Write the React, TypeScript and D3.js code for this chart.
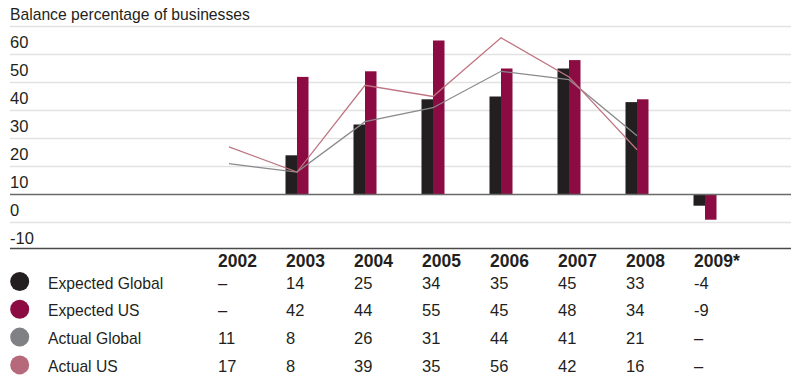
import React from "react";
import * as d3 from "d3";

const years = ["2002", "2003", "2004", "2005", "2006", "2007", "2008", "2009*"];
const expectedGlobal: (number | null)[] = [null, 14, 25, 34, 35, 45, 33, -4];
const expectedUS: (number | null)[] = [null, 42, 44, 55, 45, 48, 34, -9];
const actualGlobal: (number | null)[] = [11, 8, 26, 31, 44, 41, 21, null];
const actualUS: (number | null)[] = [17, 8, 39, 35, 56, 42, 16, null];
const yTicks = [60, 50, 40, 30, 20, 10, 0, -10];

const series = [
  { name: "Expected Global", values: expectedGlobal, color: "#231f20" },
  { name: "Expected US", values: expectedUS, color: "#8b0b42" },
  { name: "Actual Global", values: actualGlobal, color: "#808184" },
  { name: "Actual US", values: actualUS, color: "#b5697a" },
];

const W = 807;
const H = 378;
const FONT = "'Liberation Sans', Arial, sans-serif";

export default function App() {
  const x = d3.scalePoint<string>().domain(years).range([229, 705]);
  const y = d3.scaleLinear().domain([-10, 60]).range([222.5, 26.5]);
  const barW = 11.5;
  const left = 10;
  const right = 791;
  const bottomLine = 248.5;

  const lineGen = d3
    .line<[string, number | null]>()
    .defined((d) => d[1] !== null)
    .x((d) => x(d[0]) as number)
    .y((d) => y(d[1] as number));

  const rowY = (i: number) => 288.5 + i * 27.8;

  return (
    <svg
      width={W}
      height={H}
      style={{ position: "absolute", left: 0, top: 0, background: "#fff" }}
      fontFamily={FONT}
    >
      <text x={10} y={20} fontSize={15.7} fill="#231f20">
        Balance percentage of businesses
      </text>
      {yTicks.map((t) => (
        <g key={t}>
          {t !== 0 && (
            <line x1={left} x2={right} y1={y(t)} y2={y(t)} stroke="#e2e2e2" strokeWidth={1.5} />
          )}
          <text x={10} y={y(t) + 21.5} fontSize={16.5} fill="#231f20">
            {t}
          </text>
        </g>
      ))}
      {years.map((yr, i) => {
        const c = x(yr) as number;
        const g = expectedGlobal[i];
        const u = expectedUS[i];
        return (
          <g key={yr}>
            {g !== null && (
              <rect
                x={c - barW}
                y={Math.min(y(g), y(0))}
                width={barW}
                height={Math.abs(y(g) - y(0))}
                fill="#231f20"
              />
            )}
            {u !== null && (
              <rect
                x={c}
                y={Math.min(y(u), y(0))}
                width={barW}
                height={Math.abs(y(u) - y(0))}
                fill="#8b0b42"
              />
            )}
          </g>
        );
      })}
      <line x1={left} x2={right} y1={y(0)} y2={y(0)} stroke="#6a6a6a" strokeWidth={1.6} />
      <path
        d={lineGen(years.map((yr, i) => [yr, actualGlobal[i]] as [string, number | null])) || ""}
        fill="none"
        stroke="#8a8a8c"
        strokeWidth={1.3}
      />
      <path
        d={lineGen(years.map((yr, i) => [yr, actualUS[i]] as [string, number | null])) || ""}
        fill="none"
        stroke="#c07482"
        strokeWidth={1.3}
      />
      <line x1={left} x2={right} y1={bottomLine} y2={bottomLine} stroke="#4a4a4a" strokeWidth={1.6} />
      {years.map((yr) => (
        <text
          key={yr}
          x={(x(yr) as number) - 11}
          y={266.7}
          fontSize={17.5}
          fontWeight="bold"
          fill="#231f20"
        >
          {yr}
        </text>
      ))}
      {series.map((s, i) => (
        <g key={s.name}>
          <circle cx={19.7} cy={rowY(i) - 7} r={9.5} fill={s.color} />
          <text x={48} y={rowY(i)} fontSize={15.7} fill="#231f20">
            {s.name}
          </text>
          {years.map((yr, j) => (
            <text key={yr} x={(x(yr) as number) - 11} y={rowY(i)} fontSize={16.5} fill="#231f20">
              {s.values[j] === null ? "–" : String(s.values[j])}
            </text>
          ))}
        </g>
      ))}
    </svg>
  );
}
